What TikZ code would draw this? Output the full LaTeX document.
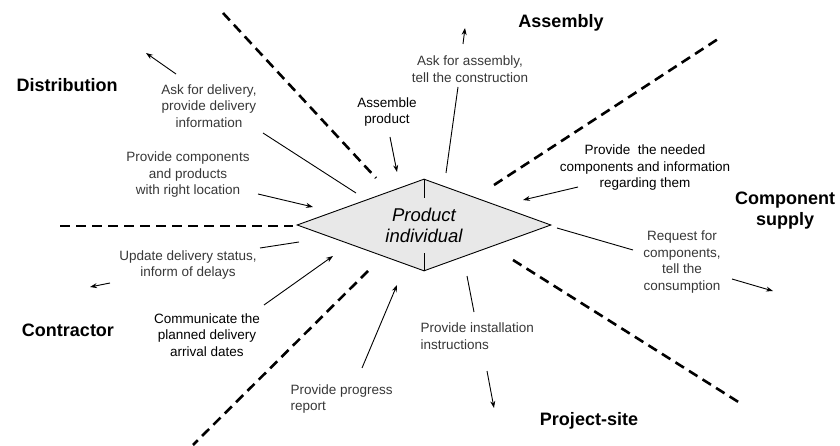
\documentclass[tikz,border=0pt]{standalone}
\usepackage{fontspec}
\setmainfont{Liberation Sans}
\usetikzlibrary{shapes.geometric,arrows.meta}
\definecolor{notegray}{RGB}{55,55,55}
\definecolor{prodfill}{RGB}{232,232,232}
\tikzset{
  area/.style={font=\fontsize{18}{21}\selectfont\bfseries,align=center},
  note/.style={font=\fontsize{13.5}{16.5}\selectfont,text=notegray,align=center},
  notedark/.style={note,text=black},
  product/.style={diamond,draw,line width=0.9pt,fill=prodfill,aspect=2.76,
    minimum width=254pt,minimum height=92pt,inner sep=0pt,
    font=\fontsize{18.5}{21}\selectfont\itshape,align=center},
  flow/.style={line width=0.9pt},
  arr/.style={flow,-{Stealth[length=7pt,width=5pt]}},
  border/.style={line width=2.6pt,dash pattern=on 10pt off 6pt},
}
\begin{document}
\begin{tikzpicture}[x=1pt,y=-1pt]
\useasboundingbox (0,0) rectangle (840,446);

% borders between the areas
\draw[border] (223,13) -- (376,178);
\draw[border] (60,226) -- (293,226);
\draw[border] (368,271) -- (193,445);
\draw[border] (494,185) -- (718,39);
\draw[border] (513,260) -- (740,403);

% the product in the middle
\node[product] (prod) at (424,225) {Product\\individual};
\draw[flow] (prod.north) -- ++(0,19);
\draw[flow] (prod.south) -- ++(0,-18);

% areas
\node[area] (distr) at (67,85) {Distribution};
\node[area] (assem) at (561,23) {Assembly};
\node[area] (compsup) at (785,211) {Component\\supply};
\node[area] (site) at (589,421) {Project-site};
\node[area] (contr) at (68,330) {Contractor};

% messages
\node[note] (askdel) at (209,106) {Ask for delivery,\\provide delivery\\information};
\node[note] (provcomp) at (188,175) {Provide components\\and products\\with right location};
\node[notedark] (assprod) at (387,112) {Assemble\\product};
\node[note] (askass) at (470,69) {Ask for assembly,\\tell the construction};
\node[notedark] (needed) at (645,168) {Provide\ \ the needed\\components and information\\regarding them};
\node[note] (request) at (682,262) {Request for\\components,\\tell the\\consumption};
\node[note,align=left,anchor=west] (install) at (417,336) {Provide installation\\instructions};
\node[note,align=left,anchor=west] (progress) at (287,399) {Provide progress\\report};
\node[notedark] (commun) at (207,335) {Communicate the\\planned delivery\\arrival dates};
\node[note] (update) at (188,265) {Update delivery status,\\inform of delays};

% distribution
\coordinate (d1) at (263,133); \coordinate (d2) at (356,193);
\coordinate (d3) at (176,74);  \coordinate (d4) at (146,53);
\coordinate (d5) at (258,194); \coordinate (d6) at (313,207);
\draw[flow] (d1) -- (d2);
\draw[arr] (d3) -- (d4);
\draw[arr] (d5) -- (d6);

% assembly
\coordinate (a1) at (390,137); \coordinate (a2) at (397,172);
\coordinate (a3) at (446,173); \coordinate (a4) at (458,87);
\coordinate (a5) at (463,44);  \coordinate (a6) at (465,28);
\draw[arr] (a1) -- (a2);
\draw[flow] (a3) -- (a4);
\draw[arr] (a5) -- (a6);

% component supply
\coordinate (c1) at (578,187); \coordinate (c2) at (523,200);
\coordinate (c3) at (557,228); \coordinate (c4) at (633,250);
\coordinate (c5) at (732,279); \coordinate (c6) at (773,291);
\draw[arr] (c1) -- (c2);
\draw[flow] (c3) -- (c4);
\draw[arr] (c5) -- (c6);

% project-site
\coordinate (p1) at (467,276); \coordinate (p2) at (474,312);
\coordinate (p3) at (487,371); \coordinate (p4) at (494,408);
\draw[flow] (p1) -- (p2);
\draw[arr] (p3) -- (p4);

% contractor
\coordinate (k1) at (362,368); \coordinate (k2) at (397,285);
\coordinate (k3) at (264,305); \coordinate (k4) at (333,256);
\coordinate (k5) at (299,242); \coordinate (k6) at (260,248);
\coordinate (k7) at (110,283); \coordinate (k8) at (90,287);
\draw[arr] (k1) -- (k2);
\draw[arr] (k3) -- (k4);
\draw[flow] (k5) -- (k6);
\draw[arr] (k7) -- (k8);
\end{tikzpicture}
\end{document}
